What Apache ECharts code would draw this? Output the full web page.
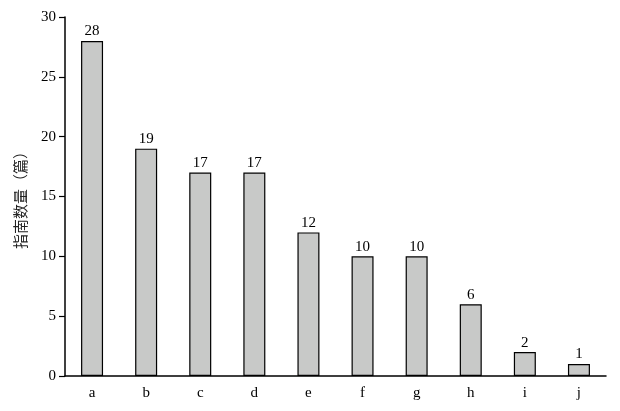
<!DOCTYPE html>
<html><head><meta charset="utf-8">
<script src="https://cdn.jsdelivr.net/npm/echarts@6/dist/echarts.min.js"></script>
<style>html,body{margin:0;padding:0;background:#fff}#c{width:620px;height:411px}</style>
</head><body><div id="c"></div>
<script>
var categories = ['a','b','c','d','e','f','g','h','i','j'];
var values = [28,19,17,17,12,10,10,6,2,1];
var yTitle = '指南数量（篇）';
var serif = '"Liberation Serif","DejaVu Serif",serif';
var chart = echarts.init(document.getElementById('c'));
chart.setOption({
  animation: false,
  backgroundColor: '#fff',
  grid: {left: 65, right: 14, top: 17, bottom: 35},
  xAxis: {
    type: 'category', data: categories, boundaryGap: true,
    axisLine: {lineStyle: {color: '#000', width: 1.5}},
    axisTick: {inside: true, length: 5, lineStyle: {color: '#000', width: 1.2}},
    axisLabel: {color: '#000', fontFamily: serif, fontSize: 15, margin: 10}
  },
  yAxis: {
    type: 'value', min: 0, max: 30, interval: 5,
    name: yTitle, nameLocation: 'middle', nameGap: 37, nameRotate: 90,
    nameTextStyle: {color: '#222', fontFamily: '"Noto Sans CJK SC"', fontSize: 15},
    splitLine: {show: false},
    axisLine: {show: true, lineStyle: {color: '#000', width: 1.5}},
    axisTick: {show: true, length: 6, lineStyle: {color: '#000', width: 1.2}},
    axisLabel: {color: '#000', fontFamily: serif, fontSize: 15, margin: 9}
  },
  series: [{
    type: 'bar', data: values, barWidth: 22,
    itemStyle: {color: '#c8c9c8', borderColor: '#000', borderWidth: 1.2},
    label: {show: true, position: 'top', distance: 2, color: '#000', fontFamily: serif, fontSize: 15}
  }]
});
</script></body></html>
